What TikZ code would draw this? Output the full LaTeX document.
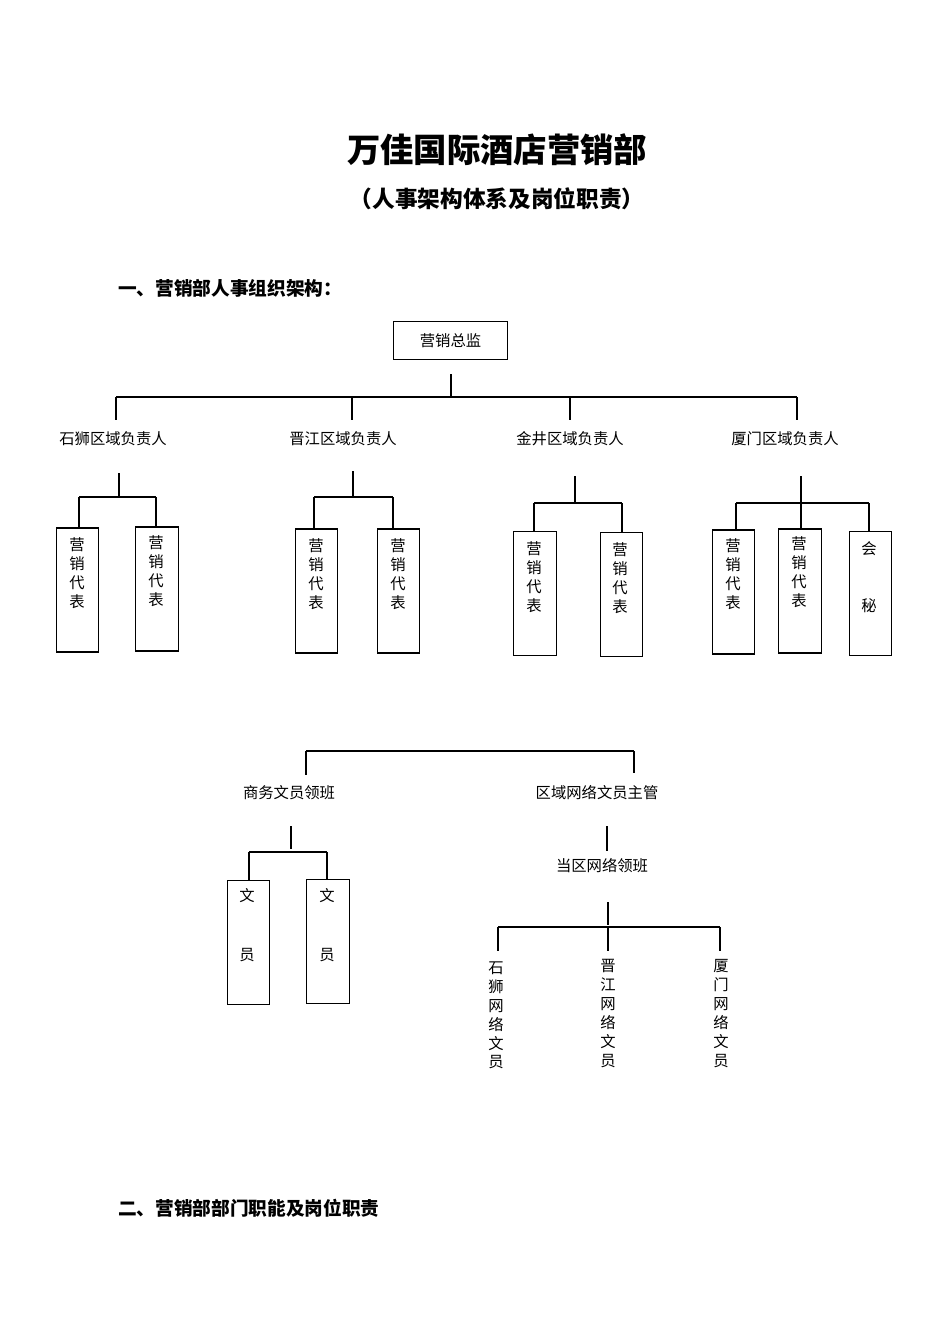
\documentclass[tikz,border=0pt]{standalone}
\usepackage{fontspec}
\setmainfont{Noto Sans CJK SC}
\begin{document}
\begin{tikzpicture}[x=0.75pt,y=-0.75pt,line width=0.9pt,
  lbl/.style={font=\fontsize{11.5pt}{14pt}\selectfont,inner sep=0pt},
  vt/.style={font=\fontsize{11.5pt}{14.2pt}\selectfont,align=center,inner sep=0pt,anchor=north},
  bx/.style={draw,minimum width=32pt,minimum height=93pt,inner sep=0pt}]
\useasboundingbox (0,0) rectangle (950,1344);
\node[font=\fontsize{25pt}{30pt}\selectfont\bfseries] (t1) at (497,150) {万佳国际酒店营销部};
\node[font=\fontsize{17pt}{20pt}\selectfont\bfseries] (t2) at (497,199) {（人事架构体系及岗位职责）};
\node[font=\fontsize{14pt}{17pt}\selectfont\bfseries,anchor=west] (h1) at (113,288) {一、营销部人事组织架构：};
\node[font=\fontsize{14pt}{17pt}\selectfont\bfseries,anchor=west] (h2) at (113,1208) {二、营销部部门职能及岗位职责};
% top
\node[draw,minimum width=86pt,minimum height=28pt,lbl] (top) at (450.5,340.5) {营销总监};
\coordinate (tj) at (451,374);
\draw (tj) -- (451,397);
\draw (116,397) -- (797,397);
\foreach \x/\n in {116/a,352/b,570/c,797/d}{\coordinate (d\n) at (\x,420); \draw (\x,397) -- (d\n);}
\node[lbl] (ra) at (113,439) {石狮区域负责人};
\node[lbl] (rb) at (343,439) {晋江区域负责人};
\node[lbl] (rc) at (570,439) {金井区域负责人};
\node[lbl] (rd) at (785,439) {厦门区域负责人};
% groups
\newcommand\grp[7]{% vx, vtop, hy, x1, x2, ytop, name
  \draw (#1,#2) -- (#1,#3); \draw (#4,#3) -- (#5,#3);
}
% group 1
\node[bx] (a1) at (77.5,590) {}; \node[bx] (a2) at (157,589) {};
\draw (119,473) -- (119,497); \draw (79,497) -- (156,497);
\draw (79,497) -- (a1.north -| 79,0); \draw (156,497) -- (a2.north -| 156,0);
\node[vt] at (77,537) {营\\销\\代\\表}; \node[vt] at (156,535) {营\\销\\代\\表};
% group 2
\node[bx] (b1) at (316.5,591) {}; \node[bx] (b2) at (398.5,591) {};
\draw (353,471) -- (353,497); \draw (314,497) -- (393,497);
\draw (314,497) -- (b1.north -| 314,0); \draw (393,497) -- (b2.north -| 393,0);
\node[vt] at (316,538) {营\\销\\代\\表}; \node[vt] at (398,538) {营\\销\\代\\表};
% group 3
\node[bx] (c1) at (535,593.5) {}; \node[bx] (c2) at (621.5,594.5) {};
\draw (575,476) -- (575,502); \draw (534,503) -- (622,503);
\draw (534,503) -- (c1.north -| 534,0); \draw (622,503) -- (c2.north -| 622,0);
\node[vt] at (534,541) {营\\销\\代\\表}; \node[vt] at (620,542) {营\\销\\代\\表};
% group 4
\node[bx] (e1) at (733.5,592) {}; \node[bx] (e2) at (800,591) {}; \node[bx] (e3) at (870.5,593.5) {};
\draw (801,476) -- (801,503); \draw (736,503) -- (869,503);
\draw (736,503) -- (e1.north -| 736,0); \draw (801,503) -- (e2.north -| 801,0); \draw (869,503) -- (e3.north -| 869,0);
\node[vt] at (733,538) {营\\销\\代\\表}; \node[vt] at (799,536) {营\\销\\代\\表};
\node[lbl] at (869,549) {会}; \node[lbl] at (869,606) {秘};
% bottom
\draw (306,751) -- (634,751);
\draw (306,751) -- (306,775); \draw (634,751) -- (634,773);
\node[lbl] (s1) at (289,793) {商务文员领班};
\node[lbl] (s2) at (597,793) {区域网络文员主管};
\draw (291,826) -- (291,849); \draw (249,852) -- (327,852);
\node[bx] (f1) at (248.5,942.5) {}; \node[bx] (f2) at (328,941.5) {};
\draw (249,852) -- (f1.north -| 249,0); \draw (327,852) -- (f2.north -| 327,0);
\node[lbl] at (247,896) {文}; \node[lbl] at (247,955) {员};
\node[lbl] at (327,896) {文}; \node[lbl] at (327,955) {员};
\draw (607,826) -- (607,851);
\node[lbl] (s3) at (602,866) {当区网络领班};
\draw (608,902) -- (608,925); \draw (498,927) -- (720,927);
\foreach \x in {498,608,720} \draw (\x,927) -- (\x,951);
\node[vt] (n1) at (496,961) {石\\狮\\网\\络\\文\\员};
\node[vt] (n2) at (608,959) {晋\\江\\网\\络\\文\\员};
\node[vt] (n3) at (721,959) {厦\\门\\网\\络\\文\\员};
\end{tikzpicture}
\end{document}
